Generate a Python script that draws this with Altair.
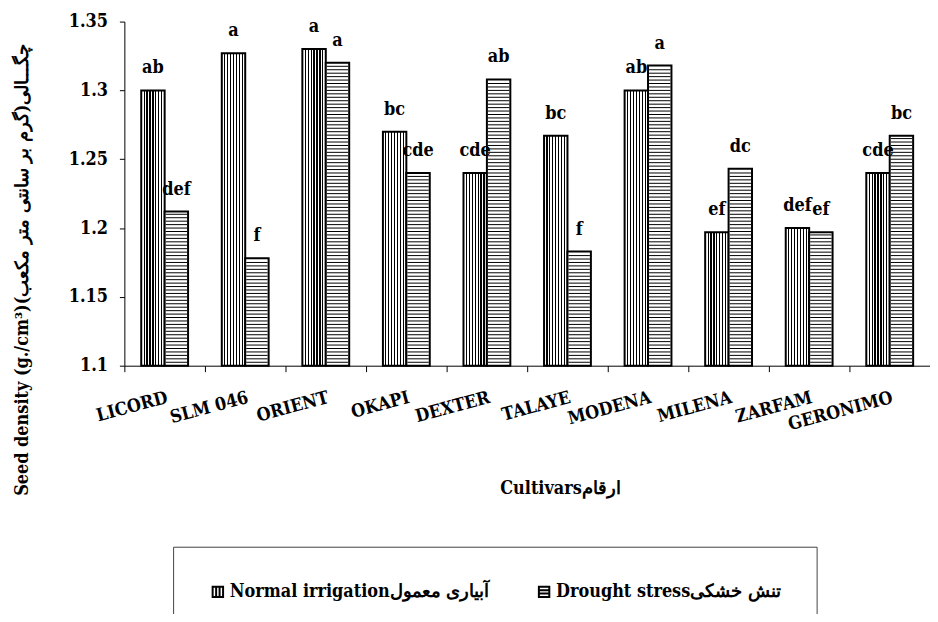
import altair as alt
import pandas as pd

# ---------------- data ----------------
cultivars = ["LICORD", "SLM 046", "ORIENT", "OKAPI", "DEXTER",
             "TALAYE", "MODENA", "MILENA", "ZARFAM", "GERONIMO"]
normal_irrigation = [1.300, 1.327, 1.330, 1.270, 1.240, 1.267, 1.300, 1.197, 1.200, 1.240]
drought_stress = [1.212, 1.178, 1.320, 1.240, 1.308, 1.183, 1.318, 1.243, 1.197, 1.267]
letters_normal = ["ab", "a", "a", "bc", "cde", "bc", "ab", "ef", "def", "cde"]
letters_drought = ["def", "f", "a", "cde", "ab", "f", "a", "dc", "ef", "bc"]
y_ticks = [1.1, 1.15, 1.2, 1.25, 1.3, 1.35]

NORMAL = "Normal irrigationآبیاری معمول"
DROUGHT = "Drought stressتنش خشکی"
treatments = [NORMAL, DROUGHT]

rows = []
for i, c in enumerate(cultivars):
    rows.append({"cultivar": c, "treatment": NORMAL, "value": normal_irrigation[i], "letter": letters_normal[i]})
    rows.append({"cultivar": c, "treatment": DROUGHT, "value": drought_stress[i], "letter": letters_drought[i]})
df = pd.DataFrame(rows)

FONT = "DejaVu Serif Condensed, DejaVu Serif, serif"
W, H = 810, 346
BAR_W = 23.5

# vertical stripe pattern (style) for the normal-irrigation bars
n_div = 8
half = 0.6 / BAR_W
stops = [alt.GradientStop(offset=0, color="white")]
for k in range(1, n_div):
    c = k / n_div
    stops += [alt.GradientStop(offset=c - half, color="white"),
              alt.GradientStop(offset=c - half, color="black"),
              alt.GradientStop(offset=c + half, color="black"),
              alt.GradientStop(offset=c + half, color="white")]
stops.append(alt.GradientStop(offset=1, color="white"))
vstripes = alt.LinearGradient(gradient="linear", stops=stops, x1=0, x2=1, y1=0, y2=0)

x_enc = alt.X(
    "cultivar:N",
    sort=cultivars,
    scale=alt.Scale(domain=cultivars, paddingInner=0, paddingOuter=0),
    axis=alt.Axis(
        title="Cultivarsارقام",
        labelAngle=-15, labelAlign="right", labelBaseline="top",
        labelPadding=17, tickSize=6, tickBand="extent", labelOverlap=False,
        labelLimit=300,
        titleX=438, titleY=123, titleAlign="center", titleBaseline="middle",
    ),
)
xoff_enc = alt.XOffset("treatment:N",
                       scale=alt.Scale(domain=treatments, paddingInner=0, paddingOuter=0.72))
y_scale = alt.Scale(domain=[1.1, 1.35], zero=False, nice=False)
y_axis = alt.Axis(
    values=y_ticks, format=".3~g", tickSize=5, labelPadding=12,
    title="Seed density (g./cm³)چگـــالی(گرم بر سانتی متر مکعب)\u200f",
    titleX=-102, titleY=249, titleAlign="center", titleBaseline="middle", titleAngle=270,
)

base = alt.Chart(df)

normal_bars = base.transform_filter(alt.datum.treatment == NORMAL).mark_bar(
    fill=vstripes, stroke="black", strokeWidth=2
).encode(
    x=x_enc, xOffset=xoff_enc,
    y=alt.Y("value:Q", scale=y_scale, axis=y_axis),
    y2=alt.datum(1.1),
)

drought_bars = base.transform_filter(alt.datum.treatment == DROUGHT).mark_bar(
    fill="white", stroke="black", strokeWidth=2
).encode(
    x=x_enc, xOffset=xoff_enc,
    y=alt.Y("value:Q", scale=y_scale, axis=y_axis),
    y2=alt.datum(1.1),
)

drought_lines = base.transform_filter(alt.datum.treatment == DROUGHT).transform_calculate(
    line="sequence(1.1025, datum.value - 0.001, 0.0025)"
).transform_flatten(["line"]).mark_tick(
    orient="horizontal", thickness=1, size=BAR_W - 2, color="black", opacity=1
).encode(
    x=x_enc, xOffset=xoff_enc,
    y=alt.Y("line:Q", scale=y_scale, axis=y_axis),
)

labels = base.mark_text(
    font=FONT, fontSize=18, fontWeight="bold", color="black",
    baseline="middle", align="center", dy=-22,
).encode(
    x=x_enc, xOffset=xoff_enc,
    y=alt.Y("value:Q", scale=y_scale, axis=y_axis),
    text="letter:N",
)

path_v = "M-1,-1H1V1H-1Z M-0.33,-1V1 M0.33,-1V1"
path_h = "M-1,-1H1V1H-1Z M-1,-0.33H1 M-1,0.33H1"
legend_layer = base.transform_filter("false").mark_point(
    filled=False, color="black", strokeWidth=2, opacity=1
).encode(
    x=x_enc, xOffset=xoff_enc,
    y=alt.Y("value:Q", scale=y_scale, axis=y_axis),
    shape=alt.Shape(
        "treatment:N",
        scale=alt.Scale(domain=treatments, range=[path_v, path_h]),
        legend=alt.Legend(
            title=None, orient="none", legendX=49, legendY=528,
            direction="horizontal", padding=36, columnPadding=45,
            labelFont=FONT, labelFontSize=18, labelFontWeight="bold", labelColor="black",
            labelLimit=600, labelOffset=3,
            symbolSize=110, symbolStrokeColor="black", symbolStrokeWidth=2,
            symbolFillColor="white",
            strokeColor="#444", fillColor="white",
        ),
    ),
)

chart = alt.layer(normal_bars, drought_bars, drought_lines, labels, legend_layer).properties(
    width=W, height=H,
    autosize=alt.AutoSizeParams(type="none"),
    padding={"left": 117, "top": 12, "right": 0, "bottom": 248},
).configure_axis(
    domainColor="black", tickColor="black", labelColor="black", titleColor="black",
    labelFont=FONT, titleFont=FONT, labelFontSize=18, titleFontSize=18,
    labelFontWeight="bold", titleFontWeight="bold", grid=False, domainWidth=1,
).configure_view(stroke=None)

chart.save("out.html", embed_options={"renderer": "svg", "actions": False})
